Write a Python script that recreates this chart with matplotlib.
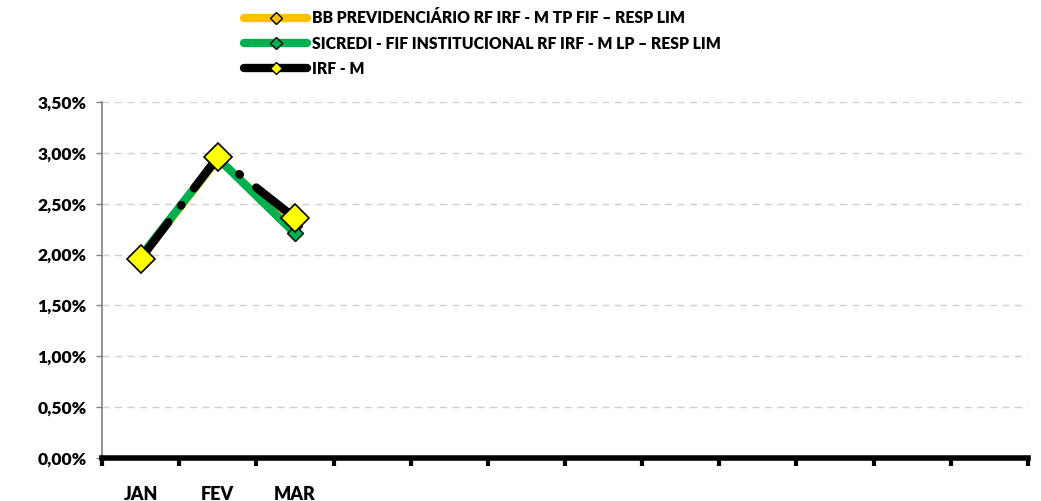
import numpy as np
import matplotlib.pyplot as plt
from matplotlib.lines import Line2D
from matplotlib.ticker import FuncFormatter, MultipleLocator

plt.rcParams['font.family'] = ['Lato', 'DejaVu Sans']
plt.rcParams['font.weight'] = 'heavy'

# monthly returns (%)
months = ['JAN', 'FEV', 'MAR', '', '', '', '', '', '', '', '', '']
bb_prev = [1.96, 2.93, 2.28]
sicredi = [1.98, 2.95, 2.21]
irf_m = [1.96, 2.96, 2.36]

names = ['BB PREVIDENCIÁRIO RF IRF - M TP FIF – RESP LIM',
         'SICREDI - FIF INSTITUCIONAL RF IRF - M LP – RESP LIM',
         'IRF - M']

fig = plt.figure(figsize=(10.41, 5.01), dpi=100)
ax = fig.add_axes([0.098, 0.086, 0.8895, 0.71])

x = np.arange(len(bb_prev))
ax.plot(x, bb_prev, color='#FFC000', lw=5, marker='D', ms=7,
        mfc='#FFC000', mec='black', mew=1, solid_capstyle='round', zorder=3)
ax.plot(x, sicredi, color='#00B050', lw=6, marker='D', ms=8,
        mfc='#00B050', mec='black', mew=1, solid_capstyle='round', zorder=4)
ax.plot(x, irf_m, color='black', lw=6, dash_capstyle='round',
        linestyle=(0, (5.5, 2.5, 0.1, 2.5)), zorder=5)
ax.plot(x, irf_m, ls='none', marker='D', ms=14, mfc='#FFFF00',
        mec='black', mew=1.2, zorder=6)

ax.set_xlim(-0.5, len(months) - 0.5)
ax.set_ylim(0, 3.5)
ax.yaxis.set_major_locator(MultipleLocator(0.5))
ax.yaxis.set_major_formatter(FuncFormatter(lambda v, p: f'{v:.2f}%'.replace('.', ',')))
ax.grid(axis='y', color='#D0D0D0', ls=(0, (5, 4)), lw=1)
ax.set_axisbelow(True)

ax.set_xticks(np.arange(len(months)))
ax.set_xticklabels(months)
ax.set_xticks(np.arange(len(months) + 1) - 0.5, minor=True)
ax.tick_params(axis='x', which='major', length=0, pad=20, labelsize=13)
ax.tick_params(axis='x', which='minor', length=6, width=3, color='black', direction='out')
ax.tick_params(axis='y', length=4, width=1, color='#808080', labelsize=12.5, pad=7)

for s in ['top', 'right']:
    ax.spines[s].set_visible(False)
ax.spines['left'].set_color('#808080')
ax.spines['left'].set_linewidth(1.2)
ax.spines['bottom'].set_color('black')
ax.spines['bottom'].set_linewidth(4)

handles = [
    Line2D([], [], color='#FFC000', lw=6, marker='D', ms=6, mfc='#FFC000', mec='black', solid_capstyle='round'),
    Line2D([], [], color='#00B050', lw=6, marker='D', ms=6, mfc='#00B050', mec='black', solid_capstyle='round'),
    Line2D([], [], color='black', lw=6, marker='D', ms=6, mfc='#FFFF00', mec='black', solid_capstyle='round'),
]
fig.legend(handles, names, loc='upper left', bbox_to_anchor=(0.221, 1.008),
           frameon=False, fontsize=11.3, handlelength=4.0, handletextpad=0.3,
           labelspacing=0.6)

fig.savefig('out.png', dpi=100)
